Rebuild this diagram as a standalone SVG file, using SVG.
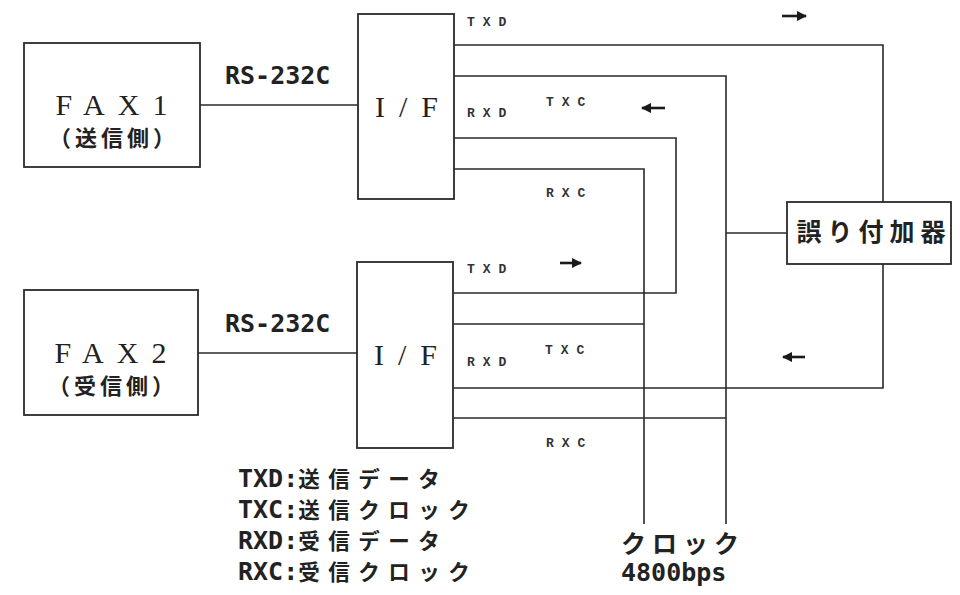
<svg xmlns="http://www.w3.org/2000/svg" width="960" height="595" viewBox="0 0 960 595">
<defs>
<style>
.box{fill:#fff;stroke:#2a2a2a;stroke-width:1.8}
.wire{fill:none;stroke:#2a2a2a;stroke-width:1.6}
.serif{font-family:"Liberation Serif","Noto Sans CJK JP",serif;font-size:30px;fill:#222}
.jp{font-family:"Noto Sans CJK JP",sans-serif;font-weight:bold;fill:#222}
.mono{font-family:"DejaVu Sans Mono","Noto Sans CJK JP",monospace;font-weight:bold;font-size:25px;fill:#222}
.sig{font-family:"Liberation Mono",monospace;font-weight:bold;font-size:13px;letter-spacing:8px;fill:#333}
.arr{stroke:#1a1a1a;stroke-width:2.6;fill:none}
.leg{font-family:"Noto Sans CJK JP",sans-serif;font-weight:bold;font-size:21.5px;letter-spacing:8.5px;fill:#222}
</style>
<marker id="head" viewBox="0 0 10 10" refX="9" refY="5" markerWidth="4" markerHeight="4" markerUnits="strokeWidth" orient="auto">
<path d="M0,0 L10,5 L0,10 z" fill="#1a1a1a"/>
</marker>
</defs>
<rect width="960" height="595" fill="#fff"/>

<g id="connectors">
<path class="wire" d="M200,105 H358"/>
<path class="wire" d="M198,353 H357"/>
<path class="wire" d="M454,45 H883 V202"/>
<path class="wire" d="M454,76 H726 V524"/>
<path class="wire" d="M726,233 H787"/>
<path class="wire" d="M454,138 H676 V293 H453"/>
<path class="wire" d="M454,169 H644 V524"/>
<path class="wire" d="M453,324 H644"/>
<path class="wire" d="M453,388 H883 V264"/>
<path class="wire" d="M453,418 H726"/>
</g>

<g id="fax1">
<rect class="box" x="24" y="43" width="176" height="124"/>
<text class="serif" x="118" y="115" text-anchor="middle" letter-spacing="13">FAX1</text>
<text class="jp" x="114" y="146" font-size="22" text-anchor="middle" letter-spacing="4">（送信側）</text>
</g>

<g id="fax2">
<rect class="box" x="24" y="290" width="174" height="125"/>
<text class="serif" x="117" y="363" text-anchor="middle" letter-spacing="13">FAX2</text>
<text class="jp" x="113" y="394" font-size="22" text-anchor="middle" letter-spacing="4">（受信側）</text>
</g>

<g id="if1">
<rect class="box" x="358" y="14" width="96" height="185"/>
<text class="serif" x="375" y="117" letter-spacing="14">I/F</text>
</g>

<g id="if2">
<rect class="box" x="357" y="262" width="96" height="186"/>
<text class="serif" x="374" y="365" letter-spacing="14">I/F</text>
</g>

<g id="error-adder">
<rect class="box" x="787" y="202" width="164" height="62"/>
<text class="jp" x="874" y="241" font-size="25" text-anchor="middle" letter-spacing="6">誤り付加器</text>
</g>

<g id="rs232c-labels">
<text class="mono" x="225" y="84">RS-232C</text>
<text class="mono" x="225" y="332">RS-232C</text>
</g>

<g id="signal-labels">
<text class="sig" x="467" y="26">TXD</text>
<text class="sig" x="546" y="106">TXC</text>
<text class="sig" x="467" y="117">RXD</text>
<text class="sig" x="546" y="197">RXC</text>
<text class="sig" x="467" y="273">TXD</text>
<text class="sig" x="545" y="354">TXC</text>
<text class="sig" x="467" y="366">RXD</text>
<text class="sig" x="546" y="447">RXC</text>
</g>

<g id="flow-arrows">
<path class="arr" d="M782,16 H806" marker-end="url(#head)"/>
<path class="arr" d="M665,108 H642" marker-end="url(#head)"/>
<path class="arr" d="M560,263 H581" marker-end="url(#head)"/>
<path class="arr" d="M805,357 H783" marker-end="url(#head)"/>
</g>

<g id="clock">
<text class="jp" x="621" y="553" font-size="25" letter-spacing="6">クロック</text>
<text class="mono" x="621" y="581">4800bps</text>
</g>

<g id="legend">
<text x="238" y="487"><tspan class="mono" font-size="26">TXD:</tspan><tspan class="leg">送信データ</tspan></text>
<text x="238" y="518"><tspan class="mono" font-size="26">TXC:</tspan><tspan class="leg">送信クロック</tspan></text>
<text x="238" y="549"><tspan class="mono" font-size="26">RXD:</tspan><tspan class="leg">受信データ</tspan></text>
<text x="238" y="580"><tspan class="mono" font-size="26">RXC:</tspan><tspan class="leg">受信クロック</tspan></text>
</g>
</svg>
